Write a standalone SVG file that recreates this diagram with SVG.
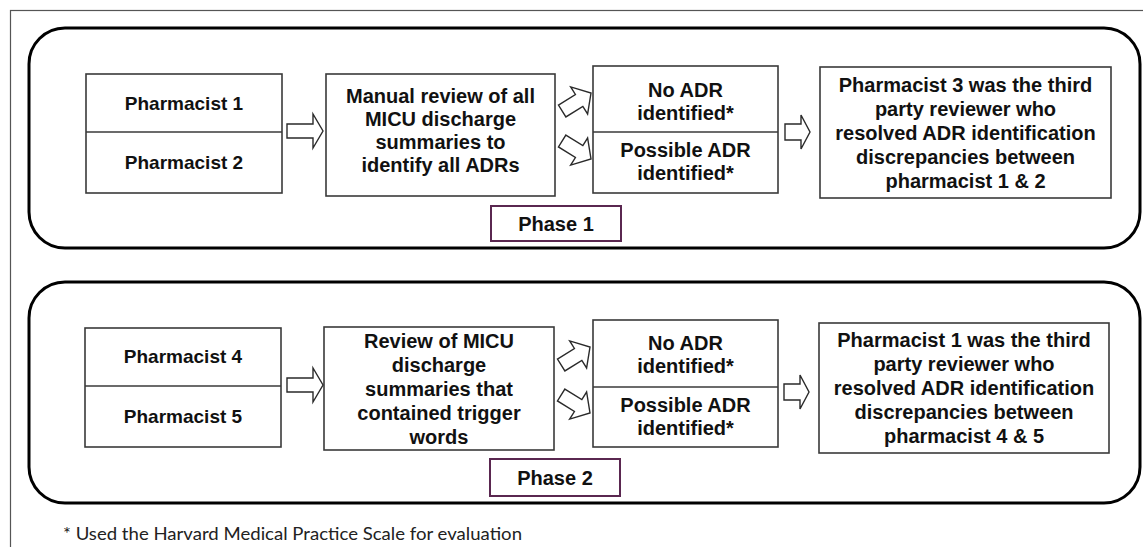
<svg xmlns="http://www.w3.org/2000/svg" width="1143" height="547" viewBox="0 0 1143 547">
  <defs>
    <style>
      .frame { fill: none; stroke: #555; stroke-width: 1.2; }
      .phase { fill: #fff; stroke: #000; stroke-width: 3; }
      .box { fill: #fff; stroke: #3a3a3a; stroke-width: 1.6; }
      .split { stroke: #3a3a3a; stroke-width: 1.6; }
      .tag { fill: #fff; stroke: #5a2750; stroke-width: 2; }
      .arrow { fill: #fff; stroke: #2a2a2a; stroke-width: 1.4; stroke-linejoin: miter; }
      .t { font-family: "Liberation Sans", Arial, sans-serif; font-weight: bold; font-size: 20px; fill: #111; text-anchor: middle; }
      .p { font-size: 19px; }
      .note { font-family: Lato, "Liberation Sans", sans-serif; font-size: 16.5px; fill: #222; }
    </style>
    <!-- block arrows, tip at the origin, pointing right -->
    <path id="arrowWide" d="M -36,-7 H -10 V -17 L 0,0 L -10,17 V 7 H -36 Z"/>
    <path id="arrowShort" d="M -25,-8 H -9 V -17 L 0,0 L -9,17 V 8 H -25 Z"/>
    <path id="arrowDiag" d="M -34,-7 H -14 V -16 L 0,0 L -14,16 V 7 H -34 Z"/>
  </defs>

  <rect class="frame" x="10.5" y="10.5" width="1145" height="550"/>

  <!-- Phase 1 -->
  <g id="phase1">
    <rect class="phase" x="29" y="28" width="1111" height="220" rx="36" ry="36"/>
  </g>
  <g id="phase1-label">
    <rect class="tag" x="491" y="206" width="130" height="35"/>
    <text class="t" x="556" y="231">Phase 1</text>
  </g>
  <g id="pharmacists-1-2">
    <rect class="box" x="86" y="74" width="196" height="119"/>
    <line class="split" x1="86" y1="132" x2="282" y2="132"/>
    <text class="t p" x="184" y="110">Pharmacist 1</text>
    <text class="t p" x="184" y="169">Pharmacist 2</text>
  </g>
  <g id="manual-review">
    <rect class="box" x="326" y="74" width="229" height="122"/>
    <text class="t" x="440.5" y="103">Manual review of all</text>
    <text class="t" x="440.5" y="126">MICU discharge</text>
    <text class="t" x="440.5" y="149">summaries to</text>
    <text class="t" x="440.5" y="172">identify all ADRs</text>
  </g>
  <g id="outcome-1">
    <rect class="box" x="593" y="66" width="185" height="127"/>
    <line class="split" x1="593" y1="132" x2="778" y2="132"/>
    <text class="t" x="685.5" y="97">No ADR</text>
    <text class="t" x="685.5" y="120">identified*</text>
    <text class="t" x="685.5" y="157">Possible ADR</text>
    <text class="t" x="685.5" y="180">identified*</text>
  </g>
  <g id="resolver-1">
    <rect class="box" x="820" y="67" width="291" height="131"/>
    <text class="t" x="965.5" y="92">Pharmacist 3 was the third</text>
    <text class="t" x="965.5" y="116">party reviewer who</text>
    <text class="t" x="965.5" y="140">resolved ADR identification</text>
    <text class="t" x="965.5" y="164">discrepancies between</text>
    <text class="t" x="965.5" y="188">pharmacist 1 &amp; 2</text>
  </g>

  <!-- Phase 2 -->
  <g id="phase2">
    <rect class="phase" x="29" y="282" width="1111" height="221" rx="36" ry="36"/>
  </g>
  <g id="phase2-label">
    <rect class="tag" x="490" y="459" width="130" height="37"/>
    <text class="t" x="555" y="485">Phase 2</text>
  </g>
  <g id="pharmacists-4-5">
    <rect class="box" x="85" y="328" width="196" height="119"/>
    <line class="split" x1="85" y1="386" x2="281" y2="386"/>
    <text class="t p" x="183" y="363">Pharmacist 4</text>
    <text class="t p" x="183" y="423">Pharmacist 5</text>
  </g>
  <g id="trigger-review">
    <rect class="box" x="324" y="327" width="230" height="123"/>
    <text class="t" x="439" y="348">Review of MICU</text>
    <text class="t" x="439" y="372">discharge</text>
    <text class="t" x="439" y="396">summaries that</text>
    <text class="t" x="439" y="420">contained trigger</text>
    <text class="t" x="439" y="444">words</text>
  </g>
  <g id="outcome-2">
    <rect class="box" x="593" y="320" width="185" height="127"/>
    <line class="split" x1="593" y1="387" x2="778" y2="387"/>
    <text class="t" x="685.5" y="350">No ADR</text>
    <text class="t" x="685.5" y="373">identified*</text>
    <text class="t" x="685.5" y="412">Possible ADR</text>
    <text class="t" x="685.5" y="435">identified*</text>
  </g>
  <g id="resolver-2">
    <rect class="box" x="819" y="323" width="290" height="130"/>
    <text class="t" x="964" y="347">Pharmacist 1 was the third</text>
    <text class="t" x="964" y="371">party reviewer who</text>
    <text class="t" x="964" y="395">resolved ADR identification</text>
    <text class="t" x="964" y="419">discrepancies between</text>
    <text class="t" x="964" y="443">pharmacist 4 &amp; 5</text>
  </g>

  <!-- connectors: hollow block arrows -->
  <g id="connectors">
    <use href="#arrowWide" class="arrow" transform="translate(323,131)"/>
    <use href="#arrowDiag" class="arrow" transform="translate(591,93) rotate(-32)"/>
    <use href="#arrowDiag" class="arrow" transform="translate(591,159) rotate(32)"/>
    <use href="#arrowShort" class="arrow" transform="translate(810,132)"/>

    <use href="#arrowWide" class="arrow" transform="translate(323,385)"/>
    <use href="#arrowDiag" class="arrow" transform="translate(590,347) rotate(-32)"/>
    <use href="#arrowDiag" class="arrow" transform="translate(590,413) rotate(32)"/>
    <use href="#arrowShort" class="arrow" transform="translate(809,392)"/>
  </g>

  <text class="note" x="63" y="540" textLength="459" lengthAdjust="spacingAndGlyphs">* Used the Harvard Medical Practice Scale for evaluation</text>
</svg>
